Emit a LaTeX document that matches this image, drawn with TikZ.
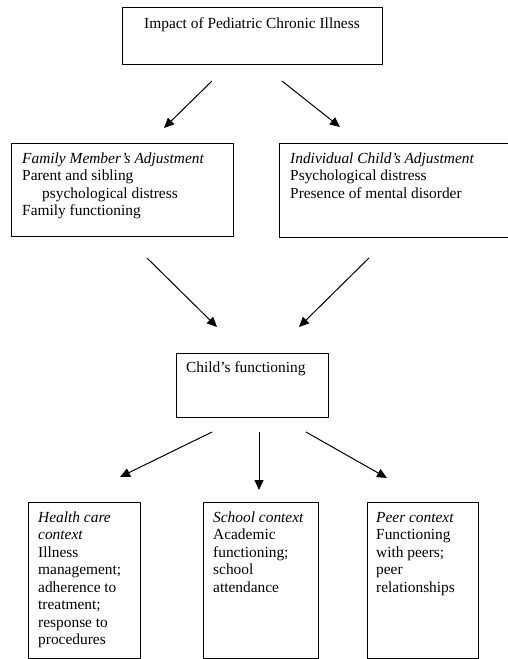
\documentclass[tikz,border=0pt]{standalone}
\usepackage{fontspec}
\setmainfont{Liberation Serif}
\usetikzlibrary{arrows.meta}
\tikzset{
  box/.style={draw, line width=0.8pt, anchor=north west, inner sep=0pt},
  txt/.style={anchor=north west, inner sep=0pt, align=left, font=\fontsize{15.4}{17.5}\selectfont},
  arr/.style={line width=1pt, -{Triangle[length=10pt,width=9pt]}}
}
\begin{document}
\begin{tikzpicture}[x=1pt,y=-1pt]
\useasboundingbox (0,0) rectangle (508,659);
% boxes
\node[box, minimum width=260pt, minimum height=57pt] (top) at (122,7) {};
\node[box, minimum width=222pt, minimum height=93pt] (fam) at (11,143) {};
\node[box, minimum width=236pt, minimum height=94pt] (ind) at (279,143) {};
\node[box, minimum width=152pt, minimum height=64pt] (cf) at (176,353) {};
\node[box, minimum width=112pt, minimum height=156pt] (hc) at (28,502) {};
\node[box, minimum width=115pt, minimum height=156pt] (sc) at (203,502) {};
\node[box, minimum width=111pt, minimum height=156pt] (pc) at (367,502) {};
% texts
\node[txt, anchor=base] (toptxt) at (252,28) {Impact of Pediatric Chronic Illness};
\node[txt] (famtxt) at (22,150.75) {\strut\textit{Family Member's Adjustment}\\Parent and sibling\\\hspace*{20pt}psychological distress\\Family functioning};
\node[txt] (indtxt) at (290,150.75) {\strut\textit{Individual Child's Adjustment}\\Psychological distress\\Presence of mental disorder};
\node[txt, anchor=base west] (cftxt) at (186,372) {Child's functioning};
\node[txt] (hctxt) at (38,509.75) {\strut\textit{Health care}\\\textit{context}\\Illness\\management;\\adherence to\\treatment;\\response to\\procedures};
\node[txt] (sctxt) at (213,509.75) {\strut\textit{School context}\\Academic\\functioning;\\school\\attendance};
\node[txt] (pctxt) at (376,509.75) {\strut\textit{Peer context}\\Functioning\\with peers;\\peer\\relationships};
% arrow end points
\coordinate (a1s) at (212,81);  \coordinate (a1e) at (164,128);
\coordinate (a2s) at (282,81);  \coordinate (a2e) at (340,127);
\coordinate (b1s) at (147,258); \coordinate (b1e) at (217,327);
\coordinate (b2s) at (369,258); \coordinate (b2e) at (299,327);
\coordinate (c1s) at (212,432); \coordinate (c1e) at (120,477);
\coordinate (c2s) at (259,432); \coordinate (c2e) at (259,490);
\coordinate (c3s) at (306,432); \coordinate (c3e) at (387,478);
\draw[arr] (a1s) -- (a1e);
\draw[arr] (a2s) -- (a2e);
\draw[arr] (b1s) -- (b1e);
\draw[arr] (b2s) -- (b2e);
\draw[arr] (c1s) -- (c1e);
\draw[arr] (c2s) -- (c2e);
\draw[arr] (c3s) -- (c3e);
\end{tikzpicture}
\end{document}
